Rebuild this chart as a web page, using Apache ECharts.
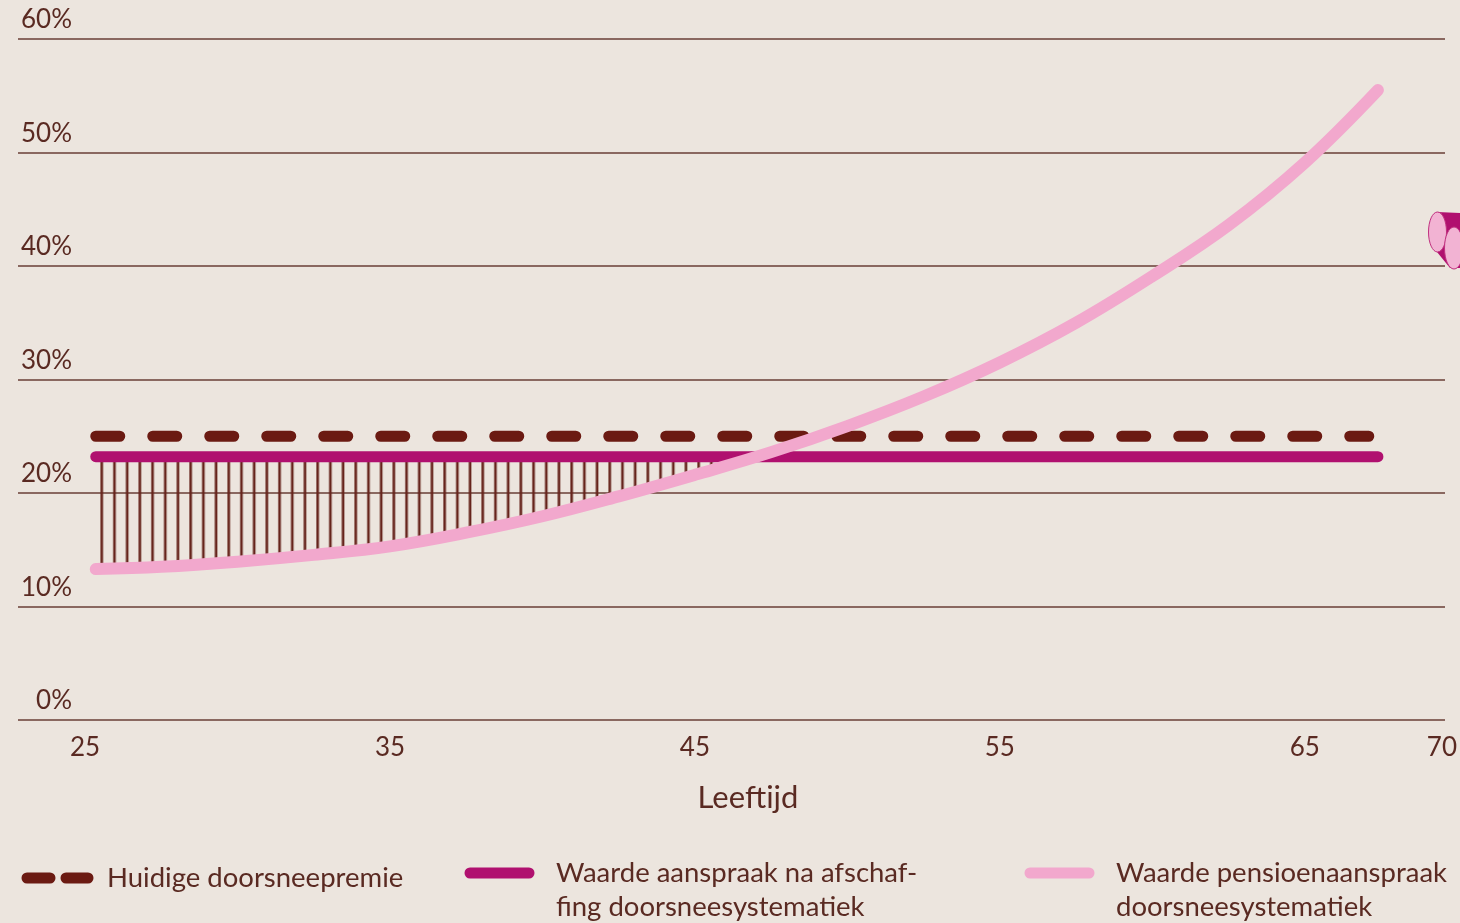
<!DOCTYPE html>
<html>
<head>
<meta charset="utf-8">
<script src="https://cdn.jsdelivr.net/npm/echarts@6/dist/echarts.min.js"></script>
<style>
  html, body { margin: 0; padding: 0; background: #ece5de; }
  #chart { width: 1460px; height: 923px; }
</style>
</head>
<body>
<div id="chart"></div>
<script>
// values (age in years, value in %)
const seriesNames = [
  'Huidige doorsneepremie',
  'Waarde aanspraak na afschaf-\nfing doorsneesystematiek',
  'Waarde pensioenaanspraak\ndoorsneesystematiek'
];
const lineStart = 25.35;
const lineEnd = 67.4;
const dashEnd = 67.1;
const huidigePremie = 25.0;
const waardeNaAfschaffing = 23.2;

const pinkAges   = [25.35, 27.5, 30, 32.5, 35, 37.5, 40, 42.5, 45, 47.5, 50, 52.5, 55, 57.5, 60, 62.5, 65, 67.4];
const pinkValues = [13.3, 13.5, 13.95, 14.55, 15.3, 16.5, 17.95, 19.7, 21.6, 23.6, 25.9, 28.5, 31.5, 35.0, 39.1, 43.6, 49.1, 55.5];

const yTicks = [0, 10, 20, 30, 40, 50, 60];
const xTicks = [25, 35, 45, 55, 65, 70];

const textColor = '#5a2a22';
const fontFamily = 'Lato';

const pinkData = pinkAges.map((a, i) => [a, pinkValues[i]]);
// hatched part: up to just past the crossing with the solid line
const hatchData = pinkData.filter(p => p[0] <= 47.5);

// vertical hatching as a canvas pattern
const hatchCanvas = document.createElement('canvas');
hatchCanvas.width = 127;
hatchCanvas.height = 20;
const hctx = hatchCanvas.getContext('2d');
hctx.fillStyle = '#66241c';
for (let i = 0; i < 10; i++) {
  hctx.fillRect(i * 12.7 + 5.2, 0, 2.6, 20);
}

var dom = document.getElementById('chart');
var myChart = echarts.init(dom, null, { renderer: 'canvas' });

const legendText = {
  fontFamily: fontFamily,
  fontSize: 27.5,
  color: textColor,
  lineHeight: 34
};

var option = {
  backgroundColor: '#ece5de',
  animation: false,
  textStyle: { fontFamily: fontFamily, color: textColor },
  grid: {
    left: 18,
    right: 15,
    top: 39,
    bottom: 203,
    containLabel: false,
    outerBoundsMode: 'none'
  },
  xAxis: {
    type: 'value',
    min: 22.8,
    max: 69.6,
    name: 'Leeftijd',
    nameLocation: 'middle',
    nameGap: 62,
    nameTextStyle: {
      fontFamily: fontFamily,
      fontSize: 31,
      color: textColor,
      padding: [0, 0, 0, 33]
    },
    axisLine: { show: false },
    axisTick: { show: false },
    splitLine: { show: false },
    axisLabel: {
      customValues: xTicks.map(v => Math.min(v, 69.5)),
      formatter: v => (v >= 69.5 ? '70' : String(v)),
      fontFamily: fontFamily,
      fontSize: 26,
      color: textColor,
      margin: 15,
      hideOverlap: false
    }
  },
  yAxis: {
    type: 'value',
    min: 0,
    max: 60,
    interval: 10,
    axisLine: { show: false },
    axisTick: { show: false },
    splitLine: { show: true, lineStyle: { color: '#8a6860', width: 2 } },
    axisLabel: {
      inside: true,
      align: 'right',
      verticalAlign: 'bottom',
      margin: 54,
      padding: [0, 0, 6, 0],
      formatter: '{value}%',
      fontFamily: fontFamily,
      fontSize: 26,
      color: textColor
    }
  },
  legend: [
    {
      data: [{ name: seriesNames[0], lineStyle: { type: [23, 16] } }],
      left: 16.5,
      top: 856,
      itemWidth: 61,
      itemHeight: 12,
      selectedMode: false,
      lineStyle: { width: 11, cap: 'round' },
      itemStyle: { opacity: 0 },
      textStyle: Object.assign({ padding: [0, 0, 0, 14] }, legendText)
    },
    {
      data: [seriesNames[1]],
      left: 459.5,
      top: 817,
      itemWidth: 59,
      itemHeight: 12,
      selectedMode: false,
      lineStyle: { width: 11, cap: 'round' },
      itemStyle: { opacity: 0 },
      formatter: name => ' \n' + name,
      textStyle: Object.assign({ padding: [0, 0, 0, 22] }, legendText)
    },
    {
      data: [seriesNames[2]],
      left: 1019.5,
      top: 817,
      itemWidth: 59,
      itemHeight: 12,
      selectedMode: false,
      lineStyle: { width: 11, cap: 'round' },
      itemStyle: { opacity: 0 },
      formatter: name => ' \n' + name,
      textStyle: Object.assign({ padding: [0, 0, 0, 22] }, legendText)
    }
  ],
  series: [
    {
      name: 'arcering',
      type: 'line',
      data: hatchData,
      smooth: 0.4,
      symbol: 'none',
      silent: true,
      z: 1,
      lineStyle: { width: 0 },
      areaStyle: {
        origin: waardeNaAfschaffing,
        opacity: 1,
        color: { image: hatchCanvas, repeat: 'repeat', x: 6.35, y: 0 }
      }
    },
    {
      name: seriesNames[0],
      type: 'line',
      data: [[lineStart, huidigePremie], [dashEnd, huidigePremie]],
      symbol: 'none',
      z: 3,
      lineStyle: { color: '#6b1a12', width: 11, type: [24, 33], cap: 'round' },
      itemStyle: { color: '#6b1a12' }
    },
    {
      name: seriesNames[1],
      type: 'line',
      data: [[lineStart, waardeNaAfschaffing], [lineEnd, waardeNaAfschaffing]],
      symbol: 'none',
      z: 3,
      lineStyle: { color: '#b0106f', width: 11, cap: 'round' },
      itemStyle: { color: '#b0106f' }
    },
    {
      name: seriesNames[2],
      type: 'line',
      data: pinkData,
      smooth: 0.4,
      symbol: 'none',
      z: 4,
      lineStyle: { color: '#f2a8cd', width: 12, cap: 'round' },
      itemStyle: { color: '#f2a8cd' }
    }
  ],
  graphic: [
    // cut-off decoration at the right edge
    { type: 'polygon', silent: true, shape: { points: [[1437, 212], [1460, 213], [1460, 268], [1450, 268], [1437, 252]] }, style: { fill: '#b0106f' } },
    { type: 'ellipse', silent: true, shape: { cx: 1437.5, cy: 232, rx: 9, ry: 20 }, style: { fill: '#f2b3d3', stroke: '#c0307f', lineWidth: 1 } },
    { type: 'ellipse', silent: true, shape: { cx: 1454, cy: 248, rx: 9.5, ry: 21 }, style: { fill: '#f2b3d3', stroke: '#c0307f', lineWidth: 1 } }
  ]
};

if (option && typeof option === 'object') {
  myChart.setOption(option);
}

window.addEventListener('resize', myChart.resize);
</script>
</body>
</html>
